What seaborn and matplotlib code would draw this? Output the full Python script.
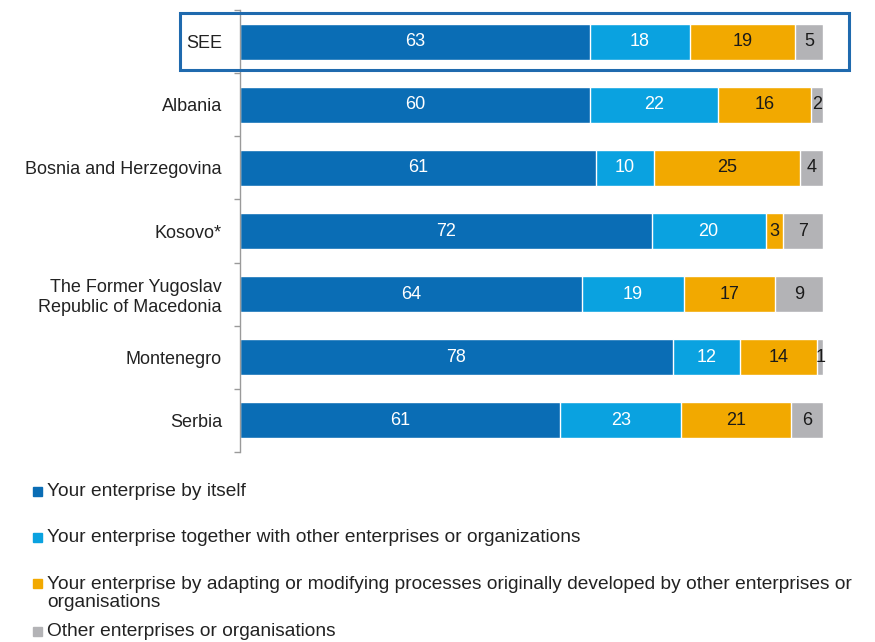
import numpy as np
import pandas as pd
import matplotlib
matplotlib.use("Agg")
import matplotlib.pyplot as plt
from matplotlib.patches import Rectangle
import seaborn as sns

countries = ["SEE", "Albania", "Bosnia and Herzegovina", "Kosovo*",
             "The Former Yugoslav\nRepublic of Macedonia", "Montenegro", "Serbia"]
by_itself = [63, 60, 61, 72, 64, 78, 61]
together = [18, 22, 10, 20, 19, 12, 23]
adapting = [19, 16, 25, 3, 17, 14, 21]
others = [5, 2, 4, 7, 9, 1, 6]
series_names = [
    "Your enterprise by itself",
    "Your enterprise together with other enterprises or organizations",
    "Your enterprise by adapting or modifying processes originally developed by other enterprises or\norganisations",
    "Other enterprises or organisations",
]
colors = ["#0A6DB5", "#0AA2E0", "#F2A900", "#B3B3B6"]
text_colors = ["white", "white", "#1a1a1a", "#1a1a1a"]

sns.set_theme(style="white")
plt.rcParams["font.family"] = ["Liberation Sans", "DejaVu Sans"]

vals = np.array([by_itself, together, adapting, others], dtype=float)
shares = vals / vals.sum(axis=0)
cum = np.cumsum(shares, axis=0)

fig = plt.figure(figsize=(8.75, 6.42), dpi=100)
W, H = 875, 642
ax = fig.add_axes([240 / W, 1 - 452 / H, (823 - 240) / W, (452 - 10) / H])

# stacked bars: draw cumulative totals from the largest down
for i in range(3, -1, -1):
    df = pd.DataFrame({"country": countries, "value": cum[i]})
    sns.barplot(data=df, x="value", y="country", color=colors[i], width=0.57,
                saturation=1, ax=ax, orient="h")

# segment labels
for i in range(4):
    left = cum[i] - shares[i]
    for j in range(len(countries)):
        ax.text(left[j] + shares[i][j] / 2, j, f"{int(vals[i][j])}",
                ha="center", va="center", color=text_colors[i], fontsize=13)

ax.set_xlim(0, 1)
ax.set_ylim(len(countries) - 0.5, -0.5)
ax.set_xlabel("")
ax.set_ylabel("")
ax.set_xticks([])
for s in ["top", "right", "bottom"]:
    ax.spines[s].set_visible(False)
ax.spines["left"].set_color("#9a9a9a")
ax.spines["left"].set_linewidth(1.0)
ax.set_yticks(np.arange(len(countries)))
ax.set_yticklabels(countries, fontsize=13, color="#222222")
ax.tick_params(axis="y", which="major", left=False, length=0, pad=13)
ax.set_yticks(np.arange(len(countries) + 1) - 0.5, minor=True)
ax.tick_params(axis="y", which="minor", left=True, length=4, width=1,
               color="#9a9a9a", direction="out")
for lbl in ax.get_yticklabels():
    lbl.set_multialignment("right")

# highlight box around SEE
fig.patches.append(Rectangle((180 / W, 1 - 70 / H), (849 - 180) / W, (70 - 13) / H,
                             transform=fig.transFigure, fill=False,
                             edgecolor="#1F6AAE", linewidth=2.2))

# legend
leg_y = [491, 537, 583, 631]
for i, (name, y) in enumerate(zip(series_names, leg_y)):
    fig.patches.append(Rectangle((33 / W, 1 - (y + 5) / H), 9 / W, 9 / H,
                                 transform=fig.transFigure, color=colors[i]))
    if "\n" in name:
        fig.text(47 / W, 1 - (y + 10.5) / H, name, ha="left", va="center",
                 fontsize=13.8, color="#222222", linespacing=1.12)
    else:
        fig.text(47 / W, 1 - y / H, name, ha="left", va="center",
                 fontsize=13.8, color="#222222")

fig.savefig("out.png", dpi=100)
